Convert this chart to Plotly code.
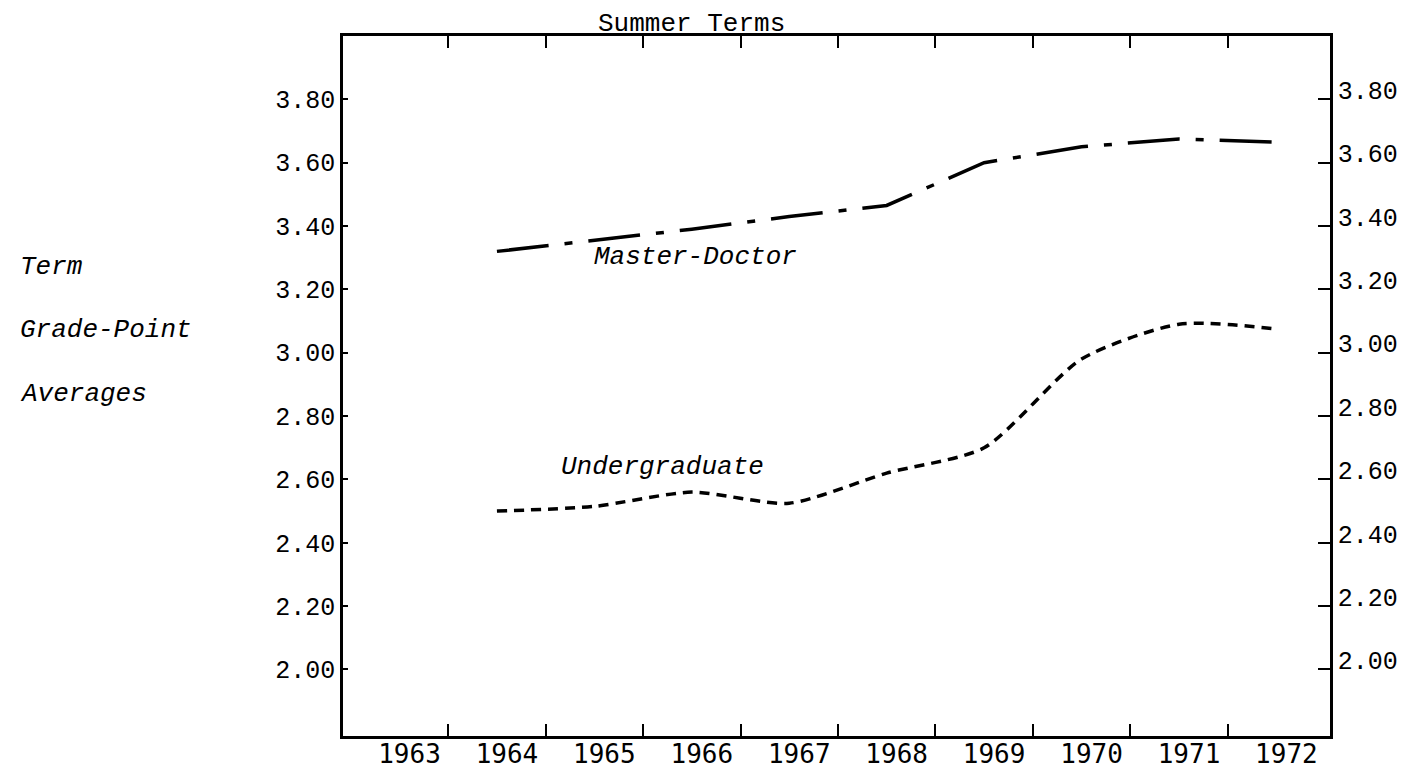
import plotly.graph_objects as go

years = [1964, 1965, 1966, 1967, 1968, 1969, 1970, 1971, 1972]
master_doctor = [3.32, 3.355, 3.39, 3.43, 3.465, 3.60, 3.65, 3.675, 3.665]
undergraduate = [2.50, 2.515, 2.56, 2.525, 2.62, 2.70, 2.98, 3.09, 3.075]

label_years = [1963, 1964, 1965, 1966, 1967, 1968, 1969, 1970, 1971, 1972]
boundaries = [y + 0.5 for y in label_years[:-1]]
y_ticks = [2.00, 2.20, 2.40, 2.60, 2.80, 3.00, 3.20, 3.40, 3.60, 3.80]
y_ticktext = ["%.2f" % v for v in y_ticks]

x_range = [1962.42, 1972.55]
y_range = [1.79, 4.0]

MONO = "Liberation Mono, Courier New, monospace"
SANSMONO = "DejaVu Sans Mono, monospace"

fig = go.Figure()
fig.add_trace(go.Scatter(
    x=years, y=master_doctor, mode="lines", name="Master-Doctor",
    line=dict(color="black", width=3.5, dash="52px,16px,8px,16px"),
    showlegend=False,
))
fig.add_trace(go.Scatter(
    x=years, y=undergraduate, mode="lines", name="Undergraduate",
    line=dict(color="black", width=3.5, dash="10px,7px", shape="spline", smoothing=0.7),
    showlegend=False,
))

fig.update_layout(
    width=1412, height=773, autosize=False,
    margin=dict(l=335, r=90, t=28, b=33),
    paper_bgcolor="white", plot_bgcolor="white",
    xaxis=dict(
        range=x_range, tickmode="array", tickvals=boundaries,
        showticklabels=False, ticks="inside", ticklen=12, tickwidth=2,
        tickcolor="black", showline=True, linecolor="black", linewidth=2.5,
        mirror="ticks", showgrid=False, zeroline=False,
    ),
    xaxis2=dict(
        range=x_range, overlaying="x", side="bottom", anchor="y",
        tickmode="array", tickvals=label_years, ticktext=[str(y) for y in label_years],
        ticks="", showline=False, showgrid=False, zeroline=False,
        ticklabelshift=10,
        tickfont=dict(family=SANSMONO, size=26, color="black"),
    ),
    yaxis=dict(
        range=y_range, tickmode="array", tickvals=y_ticks, ticktext=y_ticktext,
        ticks="inside", ticklen=5, tickwidth=2, tickcolor="black",
        showline=True, linecolor="black", linewidth=2.5,
        showgrid=False, zeroline=False,
        tickfont=dict(family=MONO, size=25, color="black"),
    ),
    yaxis2=dict(
        range=y_range, overlaying="y", side="right", anchor="x",
        tickmode="array", tickvals=y_ticks, ticktext=y_ticktext,
        ticks="inside", ticklen=12, tickwidth=2, tickcolor="black",
        showline=True, linecolor="black", linewidth=2.5,
        showgrid=False, zeroline=False, ticklabelshift=-9,
        tickfont=dict(family=MONO, size=25, color="black"),
    ),
)
# dummy trace so xaxis2 / yaxis2 render
fig.add_trace(go.Scatter(x=[None], y=[None], xaxis="x2", yaxis="y2", showlegend=False))

fig.add_annotation(
    text="Summer Terms", x=1966, xref="x", y=1, yref="paper",
    xanchor="center", yanchor="bottom", showarrow=False, borderpad=0, yshift=-4,
    font=dict(family=MONO, size=26, color="black"),
)
for txt, yy in [("Term", 3.27), ("Grade-Point", 3.071), ("Averages", 2.87)]:
    fig.add_annotation(
        text="<i>%s</i>" % txt, x=-0.329, xref="paper", y=yy, yref="y",
        xanchor="left", yanchor="middle", showarrow=False,
        font=dict(family=MONO, size=26, color="black"),
    )
fig.add_annotation(
    text="<i>Master-Doctor</i>", x=1966.04, xref="x", y=3.303, yref="y",
    xanchor="center", yanchor="middle", showarrow=False,
    font=dict(family=MONO, size=26, color="black"),
)
fig.add_annotation(
    text="<i>Undergraduate</i>", x=1965.7, xref="x", y=2.638, yref="y",
    xanchor="center", yanchor="middle", showarrow=False,
    font=dict(family=MONO, size=26, color="black"),
)

fig.write_html("out.html")
